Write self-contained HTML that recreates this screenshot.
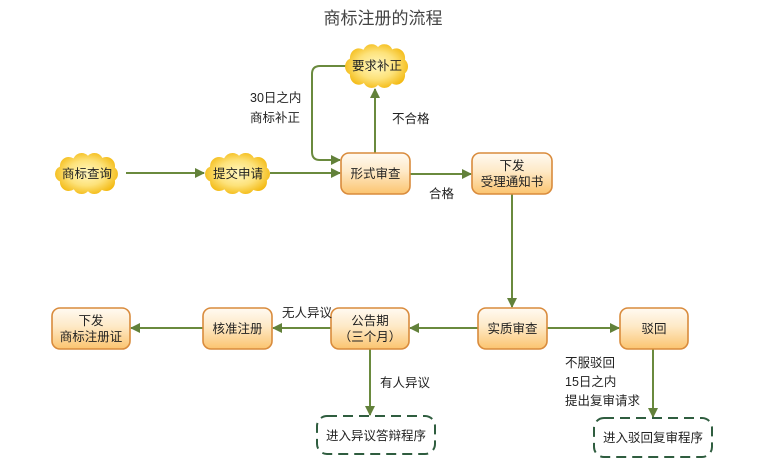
<!DOCTYPE html>
<html><head><meta charset="utf-8">
<style>
html,body{margin:0;padding:0;background:#fff;}
svg{display:block;}
text{font-family:"Liberation Sans","Noto Sans CJK SC",sans-serif;}
</style></head>
<body>
<svg width="763" height="466" viewBox="0 0 763 466" xmlns="http://www.w3.org/2000/svg">
<defs>
  <radialGradient id="cg" cx="50%" cy="50%" r="55%">
    <stop offset="0%" stop-color="#fff7c0"/>
    <stop offset="55%" stop-color="#fde27a"/>
    <stop offset="100%" stop-color="#f3b80e"/>
  </radialGradient>
  <linearGradient id="bg" x1="0" y1="0" x2="0" y2="1">
    <stop offset="0%" stop-color="#fffaf2"/>
    <stop offset="45%" stop-color="#fee9c6"/>
    <stop offset="100%" stop-color="#fbc46f"/>
  </linearGradient>
  <clipPath id="cloud">
    <ellipse cx="32" cy="21" rx="26" ry="15"/>
    <circle cx="14" cy="14" r="9"/><circle cx="27" cy="10" r="9"/>
    <circle cx="40" cy="10" r="9"/><circle cx="52" cy="14" r="9"/>
    <circle cx="8" cy="22" r="8"/><circle cx="56" cy="22" r="8"/>
    <circle cx="14" cy="30" r="9"/><circle cx="27" cy="33" r="9"/>
    <circle cx="40" cy="33" r="9"/><circle cx="52" cy="30" r="9"/>
  </clipPath>
  <marker id="ar" markerWidth="10" markerHeight="10" refX="9" refY="5" orient="auto" markerUnits="userSpaceOnUse">
    <path d="M0,0 L10,5 L0,10 Z" fill="#62813a"/>
  </marker>
</defs>

<!-- title -->
<text x="383" y="24" font-size="17" fill="#444" text-anchor="middle">商标注册的流程</text>

<!-- connectors -->
<g stroke="#6a8a3e" stroke-width="2" fill="none">
  <line x1="126" y1="173" x2="204" y2="173" marker-end="url(#ar)"/>
  <line x1="270" y1="173" x2="340" y2="173" marker-end="url(#ar)"/>
  <path d="M347,66 L320,66 Q312,66 312,74 L312,152 Q312,160 320,160 L340,160" marker-end="url(#ar)"/>
  <line x1="375" y1="153" x2="375" y2="89" marker-end="url(#ar)"/>
  <line x1="410" y1="174" x2="471" y2="174" marker-end="url(#ar)"/>
  <line x1="512" y1="194" x2="512" y2="307" marker-end="url(#ar)"/>
  <line x1="547" y1="328" x2="619" y2="328" marker-end="url(#ar)"/>
  <line x1="478" y1="328" x2="410" y2="328" marker-end="url(#ar)"/>
  <line x1="331" y1="328" x2="273" y2="328" marker-end="url(#ar)"/>
  <line x1="203" y1="328" x2="131" y2="328" marker-end="url(#ar)"/>
  <line x1="370" y1="349" x2="370" y2="415" marker-end="url(#ar)"/>
  <line x1="653" y1="349" x2="653" y2="417" marker-end="url(#ar)"/>
</g>

<!-- clouds -->
<g transform="translate(55,152) scale(0.984,1)">
  <rect x="0" y="0" width="64" height="42" fill="url(#cg)" clip-path="url(#cloud)"/>
</g>
<g transform="translate(205,152) scale(1.016,1)">
  <rect x="0" y="0" width="64" height="42" fill="url(#cg)" clip-path="url(#cloud)"/>
</g>
<g transform="translate(345,43) scale(0.985,1.07)">
  <rect x="0" y="0" width="64" height="42" fill="url(#cg)" clip-path="url(#cloud)"/>
</g>
<g font-size="12.5" fill="#222" text-anchor="middle">
  <text x="87" y="178">商标查询</text>
  <text x="238" y="178">提交申请</text>
  <text x="377" y="70">要求补正</text>
</g>

<!-- boxes -->
<g stroke="#d98b3c" stroke-width="1.6" fill="url(#bg)">
  <rect x="341" y="153" width="69" height="41" rx="8"/>
  <rect x="472" y="153" width="80" height="41" rx="8"/>
  <rect x="478" y="308" width="69" height="41" rx="8"/>
  <rect x="620" y="308" width="68" height="41" rx="8"/>
  <rect x="331" y="308" width="78" height="41" rx="8"/>
  <rect x="203" y="308" width="69" height="41" rx="8"/>
  <rect x="52" y="308" width="78" height="41" rx="8"/>
</g>
<g font-size="12.5" fill="#222" text-anchor="middle">
  <text x="375.5" y="178">形式审查</text>
  <text x="512" y="170">下发</text>
  <text x="512" y="186">受理通知书</text>
  <text x="512.5" y="333">实质审查</text>
  <text x="654" y="333">驳回</text>
  <text x="370" y="325">公告期</text>
  <text x="370" y="341">（三个月）</text>
  <text x="237.5" y="333">核准注册</text>
  <text x="91" y="325">下发</text>
  <text x="91" y="341">商标注册证</text>
</g>

<!-- dashed boxes -->
<g stroke="#2f5d3f" stroke-width="2" fill="none" stroke-dasharray="10,6">
  <rect x="317" y="416" width="118" height="38" rx="10"/>
  <rect x="594" y="418" width="118" height="39" rx="10"/>
</g>
<g font-size="12.5" fill="#222" text-anchor="middle">
  <text x="376" y="440">进入异议答辩程序</text>
  <text x="653" y="442">进入驳回复审程序</text>
</g>

<!-- labels -->
<g font-size="12.5" fill="#222">
  <text x="250" y="102">30日之内</text>
  <text x="250" y="122">商标补正</text>
  <text x="392" y="123">不合格</text>
  <text x="429" y="198">合格</text>
  <text x="282" y="317">无人异议</text>
  <text x="380" y="387">有人异议</text>
  <text x="565" y="367">不服驳回</text>
  <text x="565" y="386">15日之内</text>
  <text x="565" y="405">提出复审请求</text>
</g>
</svg>
</body></html>
